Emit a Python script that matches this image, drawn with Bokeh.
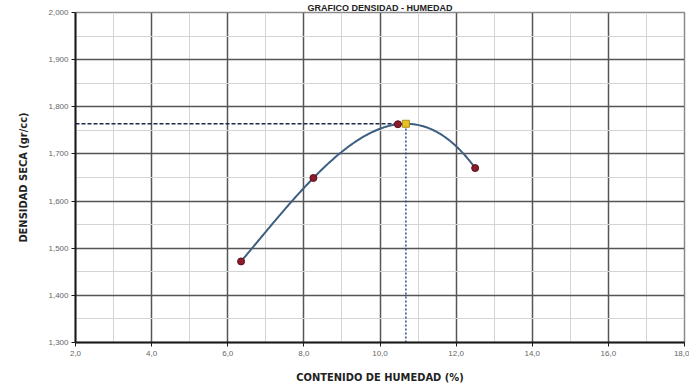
import numpy as np
from bokeh.plotting import figure
from bokeh.models import FixedTicker, CustomJSTickFormatter, Range1d
from bokeh.embed import file_html
from bokeh.resources import INLINE

# ---- data ----
humedad = [6.35, 8.25, 10.47, 12.50]          # contenido de humedad (%)
densidad = [1.472, 1.649, 1.763, 1.670]       # densidad seca (gr/cc)
max_humedad = [10.68]
max_densidad = [1.764]
x_ticks = [2, 4, 6, 8, 10, 12, 14, 16, 18]
y_ticks = [1.3, 1.4, 1.5, 1.6, 1.7, 1.8, 1.9, 2.0]

W, H = 689, 389
p = figure(width=W, height=H, output_backend="svg", toolbar_location=None,
           x_range=Range1d(2, 18), y_range=Range1d(1.3, 2.0),
           min_border_left=75, min_border_right=5, min_border_top=0, min_border_bottom=47,
           title="GRAFICO DENSIDAD - HUMEDAD")
p.title.align = "center"
p.title.text_font = "Liberation Sans"
p.title.text_font_style = "bold"
p.title.text_font_size = "9px"
p.title.text_color = "#222222"
p.title.standoff = 0
p.title.offset = -27

p.background_fill_color = "white"
p.border_fill_color = "white"
p.outline_line_color = "#8a8a8a"
p.outline_line_width = 1.5

xt = FixedTicker(ticks=x_ticks, minor_ticks=list(np.arange(2, 19, 1.0)))
yt = FixedTicker(ticks=y_ticks, minor_ticks=list(np.round(np.arange(1.3, 2.01, 0.05), 3)))
p.xaxis.ticker = xt
p.yaxis.ticker = yt
p.xgrid.ticker = xt
p.ygrid.ticker = yt
for g in (p.xgrid, p.ygrid):
    g.grid_line_color = "#555555"
    g.grid_line_width = 1.5
    g.minor_grid_line_color = "#d4d4d4"
    g.minor_grid_line_width = 1

p.xaxis.formatter = CustomJSTickFormatter(code="return tick.toFixed(1).replace('.', ',');")
p.yaxis.formatter = CustomJSTickFormatter(code="return tick.toFixed(3).replace('.', ',');")
for ax in (p.xaxis, p.yaxis):
    ax.axis_line_color = "#1a1a1a"
    ax.axis_line_width = 2
    ax.major_tick_line_color = "#1a1a1a"
    ax.major_tick_in = 0
    ax.major_tick_out = 4
    ax.minor_tick_line_color = None
    ax.major_label_text_font = "Liberation Sans"
    ax.major_label_text_font_size = "8px"
    ax.major_label_text_color = "#666666"
    ax.axis_label_text_font = "DejaVu Sans Condensed"
    ax.axis_label_text_font_style = "bold"
    ax.axis_label_text_color = "#222222"
p.xaxis.major_label_standoff = 4
p.yaxis.major_label_standoff = 3
p.xaxis.axis_label = "CONTENIDO DE HUMEDAD (%)"
p.xaxis.axis_label_text_font_size = "11px"
p.xaxis.axis_label_standoff = 12
p.yaxis.axis_label = "DENSIDAD SECA (gr/cc)"
p.yaxis.axis_label_text_font_size = "11px"
p.yaxis.axis_label_standoff = 15

# smooth curve through the measured points (cubic fit)
coef = np.polyfit(humedad, densidad, 3)
xs = np.linspace(min(humedad), max(humedad), 200)
ys = np.polyval(coef, xs)

# dashed guide lines to the maximum
p.line([2, max_humedad[0]], [max_densidad[0], max_densidad[0]], line_color="#1c2a48",
       line_width=1.5, line_dash="4 2")
p.line([max_humedad[0], max_humedad[0]], [1.3, max_densidad[0]], line_color="#2c4a86",
       line_width=1.5, line_dash="2 2")

p.line(xs, ys, line_color="#3d5f80", line_width=2)
p.scatter(humedad, densidad, size=7, fill_color="#8b1c2c", line_color="#5a0f1a")
p.scatter(max_humedad, max_densidad, marker="square", size=7, fill_color="#e6c229",
          line_color="#b08a10")

open("out.html", "w").write(file_html(p, INLINE))
